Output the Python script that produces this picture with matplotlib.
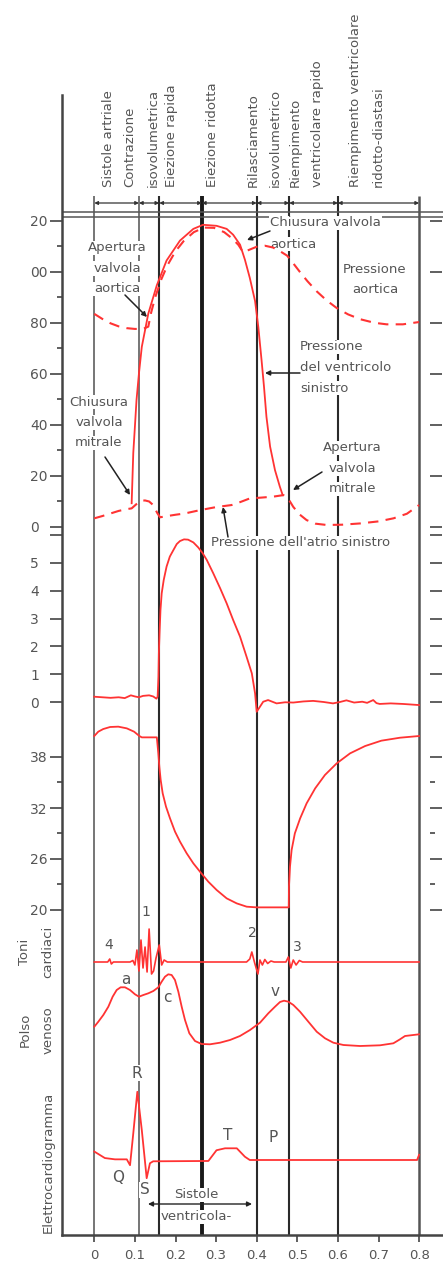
import matplotlib.pyplot as plt

W, H = 443, 1266
plt.rcParams['font.family'] = ['DejaVu Sans']

RED = '#ff3333'
GREY = '#555555'

# phase boundaries (s) and labels
phase_times = [0, 0.11, 0.16, 0.265, 0.40, 0.48, 0.60, 0.80]
phase_labels = [(108, 'Sistole artriale'), (130, 'Contrazione'), (153, 'isovolumetrica'),
                (172, 'Eiezione rapida'), (213, 'Eiezione ridotta'), (253, 'Rilasciamento'),
                (275, 'isovolumetrico'), (295, 'Riempimento'), (317, 'ventricolare rapido'),
                (355, 'Riempimento ventricolare'), (378, 'ridotto-diastasi')]
xticks = [0, 0.1, 0.2, 0.3, 0.4, 0.5, 0.6, 0.7, 0.8]
xticklabels = ['0', '0.1', '0.2', '0.3', '0.4', '0.5', '0.6', '0.7', '0.8']

# pressione ventricolo sinistro (mmHg)
lv_t = [0.092, 0.096, 0.100, 0.104, 0.110, 0.117, 0.125, 0.133, 0.154, 0.178, 0.211, 0.244,
        0.268, 0.301, 0.326, 0.342, 0.359, 0.371, 0.383, 0.396, 0.404, 0.412, 0.418, 0.424,
        0.433, 0.445, 0.457, 0.464]
lv_p = [9.3, 29, 39.3, 49.8, 60.2, 70.6, 77.1, 83.6, 94.7, 104.4, 112.2, 116.8,
        118.4, 118.0, 116.8, 114.5, 110.6, 104.7, 97.6, 88.5, 78.3, 65.3, 54.9, 43.2,
        31.5, 22.3, 15.8, 12.5]
# pressione aortica
ao_t = [0, 0.02, 0.04, 0.06, 0.08, 0.10, 0.12, 0.133, 0.14, 0.15, 0.165, 0.18, 0.20, 0.22,
        0.245, 0.27, 0.295, 0.32, 0.34, 0.355, 0.363, 0.37, 0.38, 0.40, 0.42, 0.44, 0.46,
        0.475, 0.49, 0.507, 0.525, 0.548, 0.572, 0.597, 0.625, 0.655, 0.69, 0.72, 0.76, 0.80]
ao_p = [83.5, 81.5, 79.8, 78.6, 77.9, 77.6, 77.6, 78.5, 84, 90, 97, 102.5, 108, 112,
        115.5, 117.3, 117.2, 115.5, 113, 110.5, 108.5, 107.5, 108.5, 109.8, 110.2, 109.5, 107.8,
        106.3, 103.3, 99.8, 96.3, 92.3, 88.8, 85.8, 83.3, 81.4, 80.0, 79.4, 79.4, 80.3]
# pressione atrio sinistro
la_t = [0, 0.02, 0.04, 0.06, 0.08, 0.092, 0.104, 0.115, 0.125, 0.135, 0.145, 0.155, 0.162,
        0.18, 0.2, 0.223, 0.26, 0.3, 0.338, 0.36, 0.383, 0.41, 0.441, 0.466, 0.48, 0.49,
        0.505, 0.523, 0.545, 0.572, 0.61, 0.655, 0.70, 0.737, 0.77, 0.80]
la_p = [3.4, 4.3, 5.3, 6.3, 7.0, 7.3, 9.0, 10.3, 10.4, 10.0, 8.6, 5.5, 3.8,
        4.3, 4.8, 5.3, 6.6, 7.8, 8.6, 9.8, 11.2, 11.5, 11.9, 12.5, 10.5, 7.9,
        5.0, 2.7, 1.3, 0.8, 0.9, 1.4, 2.2, 3.4, 5.2, 8.6]

# flusso aortico
flow_t = [0, 0.02, 0.04, 0.06, 0.075, 0.09, 0.10, 0.11, 0.12, 0.135, 0.145, 0.153, 0.156,
          0.158, 0.159, 0.161, 0.163, 0.166, 0.171, 0.178, 0.186, 0.195, 0.203, 0.211, 0.221,
          0.231, 0.244, 0.256, 0.267, 0.277, 0.293, 0.31, 0.326, 0.342, 0.359, 0.375, 0.388,
          0.396, 0.40, 0.408, 0.416, 0.428, 0.449, 0.47, 0.49, 0.515, 0.539, 0.565, 0.588,
          0.605, 0.621, 0.64, 0.66, 0.672, 0.687, 0.695, 0.703, 0.73, 0.76, 0.80]
flow_v = [0.19, 0.17, 0.15, 0.17, 0.14, 0.24, 0.2, 0.17, 0.22, 0.24, 0.2, 0.12, 0.19,
          0.91, 1.75, 2.59, 3.31, 3.91, 4.39, 4.87, 5.23, 5.47, 5.68, 5.79, 5.85,
          5.84, 5.74, 5.56, 5.35, 5.11, 4.63, 4.09, 3.55, 2.95, 2.35, 1.63, 1.03,
          0.31, -0.35, -0.17, 0.01, 0.07, -0.05, -0.01, -0.02, 0.02, 0.04, 0.0, -0.05,
          0.0, 0.06, -0.02, 0.01, -0.03, 0.07, -0.04, -0.07, -0.05, -0.07, -0.11]

# volume ventricolare
vol_t = [0, 0.0098, 0.022, 0.039, 0.059, 0.08, 0.098, 0.111, 0.117, 0.154, 0.1577, 0.1602,
         0.1635, 0.1684, 0.1766, 0.1865, 0.1988, 0.2111, 0.2275, 0.2439, 0.2603, 0.2808,
         0.3014, 0.326, 0.3507, 0.3753, 0.40, 0.479, 0.4795, 0.482, 0.486, 0.494, 0.507,
         0.523, 0.544, 0.568, 0.597, 0.63, 0.667, 0.707, 0.753, 0.80]
vol_v = [40.47, 40.98, 41.29, 41.53, 41.57, 41.37, 40.98, 40.47, 40.31, 40.31, 38.43, 36.86,
         35.29, 33.73, 32.16, 30.78, 29.22, 28.04, 26.67, 25.49, 24.51, 23.33,
         22.35, 21.37, 20.78, 20.39, 20.31, 20.31, 22.75, 25.1, 27.06, 29.02, 30.78,
         32.55, 34.31, 35.88, 37.25, 38.43, 39.29, 39.92, 40.27, 40.47]

# toni cardiaci
snd_t = [0, 0.033, 0.038, 0.042, 0.047, 0.088, 0.095, 0.100, 0.105, 0.110, 0.115, 0.120,
         0.125, 0.130, 0.135, 0.141, 0.146, 0.152, 0.160, 0.166, 0.172, 0.18, 0.375, 0.383,
         0.388, 0.395, 0.403, 0.408, 0.414, 0.42, 0.427, 0.435, 0.443, 0.472, 0.478, 0.484,
         0.49, 0.497, 0.505, 0.513, 0.80]
snd_v = [0, 0, 0.3, -0.2, 0, 0, 0.15, -0.3, 1.2, -0.9, 2.2, -0.6,
         1.5, -1.0, 3.3, -1.2, -0.9, 0.4, 1.7, -0.3, 0.2, 0, 0, 0.3,
         1.0, -0.1, -1.2, 0.2, -0.3, 0.25, -0.15, 0.1, 0, 0, 0.5, -0.6,
         0.2, -0.3, 0.15, 0, 0]

# polso venoso
ven_t = [0, 0.0099, 0.0222, 0.0346, 0.0452, 0.0551, 0.0649, 0.0756, 0.0879, 0.1002, 0.1101,
         0.1208, 0.1331, 0.1454, 0.1577, 0.1659, 0.1741, 0.1823, 0.1905, 0.1987, 0.207,
         0.2152, 0.2234, 0.2341, 0.248, 0.2644, 0.2849, 0.3096, 0.3342, 0.3588, 0.3835,
         0.4081, 0.4286, 0.4451, 0.4574, 0.4673, 0.478, 0.4903, 0.5067, 0.5272, 0.5478,
         0.5683, 0.5888, 0.6135, 0.6545, 0.7038, 0.7366, 0.753, 0.7653, 0.80]
ven_v = [1.83, 2.33, 3.0, 3.83, 4.83, 5.5, 5.77, 5.77, 5.5, 5.07, 4.83,
         5.0, 5.17, 5.4, 5.77, 6.33, 6.83, 7.07, 7.0, 6.5, 5.33,
         3.83, 2.5, 1.17, 0.4, 0.1, 0.07, 0.23, 0.5, 0.9, 1.5,
         2.23, 3.17, 3.83, 4.3, 4.43, 4.33, 4.0, 3.33, 2.33, 1.33,
         0.67, 0.23, 0.0, -0.1, -0.03, 0.17, 0.57, 0.9, 1.07]

# elettrocardiogramma (mV)
ecg_t = [0, 0.026, 0.051, 0.08, 0.088, 0.096, 0.106, 0.117, 0.129, 0.137, 0.145, 0.281,
         0.301, 0.322, 0.351, 0.371, 0.383, 0.47, 0.795, 0.80]
ecg_v = [0.13, 0.03, 0.01, 0.01, -0.08, 0.41, 1.05, 0.46, -0.28, -0.05, -0.02, -0.015,
         0.15, 0.18, 0.18, 0.05, 0.0, 0.0, 0.0, 0.08]

X0, PPS = 94.3, 406.0          # pixel of t=0, pixels per second
T0, T1 = (62 - X0) / PPS, (443 - X0) / PPS

fig = plt.figure(figsize=(W / 100, H / 100), dpi=100)

ax = fig.add_axes([62 / W, 1 - 1235 / H, 381 / W, 1140 / H])
ax.set_xlim(T0, T1)
ax.set_ylim(1235, 95)
ax.patch.set_visible(False)
for s in ['top', 'right']:
    ax.spines[s].set_visible(False)
for s in ['left', 'bottom']:
    ax.spines[s].set_color('#444444')
    ax.spines[s].set_linewidth(1.8)
ax.set_yticks([])
ax.set_xticks(xticks)
ax.set_xticklabels(xticklabels)
ax.tick_params(axis='x', length=5, width=1.2, color='#444444', labelsize=9.5,
               labelcolor=GREY, pad=5)

line_col = ['#6a6a6a', '#6a6a6a', '#2a2a2a', '#1a1a1a', '#2a2a2a', '#2a2a2a', '#2a2a2a', '#555555']
line_w = [1.3, 1.3, 1.5, 2.8, 1.5, 1.5, 1.5, 1.8]
for t, c, w in zip(phase_times, line_col, line_w):
    ax.vlines(t, 196, 1235, colors=c, lw=w, zorder=1)
ax.hlines([212, 216.5], T0, T1, colors='#555555', lw=1.1, zorder=1)
for a, b in zip(phase_times[:-1], phase_times[1:]):
    ax.annotate('', xy=(a, 203), xytext=(b, 203),
                arrowprops=dict(arrowstyle='<|-|>', color='#333333', lw=0.9,
                                mutation_scale=5, shrinkA=0, shrinkB=0))


def fx(x, y):
    return x / W, 1 - y / H


def note(x, y, lines, ha='center', dy=20.5, size=9.5, box=True, rot=0, color=GREY):
    for i, s in enumerate(lines):
        ax.text(*fx(x + (i * dy if rot else 0), y + (0 if rot else i * dy)), s,
                transform=fig.transFigure, ha=ha, va='center', fontsize=size,
                color=color, rotation=rot, zorder=4,
                bbox=dict(fc='white', ec='none', pad=0.6) if box else None)


def arrow(x0, y0, x1, y1):
    ax.annotate('', xy=fx(x1, y1), xycoords='figure fraction', xytext=fx(x0, y0),
                textcoords='figure fraction', zorder=5,
                arrowprops=dict(arrowstyle='-|>', color='#222222', lw=1.1,
                                mutation_scale=7, shrinkA=0, shrinkB=0))


for x, s in phase_labels:
    ax.text(*fx(x, 187), s, transform=fig.transFigure, rotation=90, ha='center',
            va='bottom', fontsize=9.5, color=GREY)

note(270, 223, ['Chiusura valvola', 'aortica'], ha='left', dy=21)
arrow(270, 231, 247, 240)
note(117, 248, ['Apertura', 'valvola', 'aortica'])
arrow(125, 295, 147, 317)
note(375, 269, ['Pressione', 'aortica'])
note(300, 347, ['Pressione', 'del ventricolo', 'sinistro'], ha='left')
arrow(300, 373, 265, 373)
note(99, 402, ['Chiusura', 'valvola', 'mitrale'])
arrow(105, 457, 130, 495)
note(352, 448, ['Apertura', 'valvola', 'mitrale'])
arrow(322, 472, 293, 490)
note(301, 543, ["Pressione dell'atrio sinistro"])
arrow(228, 537, 223, 507)

note(109, 945, ['4'], box=False, size=10)
note(146, 912, ['1'], box=False, size=10)
note(252, 933, ['2'], box=False, size=10)
note(297, 947, ['3'], box=False, size=10)
note(126, 980, ['a'], box=False, size=11)
note(167, 998, ['c'], box=False, size=11)
note(275, 992, ['v'], box=False, size=11)
note(137, 1073, ['R'], size=11)
note(118, 1177, ['Q'], box=False, size=11)
note(145, 1190, ['S'], size=11)
note(228, 1135, ['T'], box=False, size=11)
note(273, 1137, ['P'], box=False, size=11)
note(196, 1195, ['Sistole', 'ventricola-'], dy=22)
ax.annotate('', xy=fx(148, 1204), xycoords='figure fraction', xytext=fx(252, 1204),
            textcoords='figure fraction', zorder=5,
            arrowprops=dict(arrowstyle='<|-|>', color='#222222', lw=1.0,
                            mutation_scale=7, shrinkA=0, shrinkB=0))

note(25, 952, ['Toni', 'cardiaci'], rot=90, dy=23, box=False)
note(25, 1030, ['Polso', 'venoso'], rot=90, dy=23, box=False)
note(48, 1162, ['Elettrocardiogramma'], rot=90, box=False)


def panel(top, bot, ref_val, ref_px, ppu):
    a = fig.add_axes([62 / W, 1 - bot / H, 381 / W, (bot - top) / H])
    a.set_xlim(T0, T1)
    a.set_ylim(ref_val - (bot - ref_px) / ppu, ref_val + (ref_px - top) / ppu)
    a.patch.set_visible(False)
    for s in a.spines.values():
        s.set_visible(False)
    a.spines['right'].set_position(('axes', (430 - 62) / 381))
    a.set_xticks([])
    a.set_yticks([])
    return a


def yticks(a, major, labels, minor=(), right_minor=True):
    a.set_yticks(major)
    a.set_yticklabels(labels)
    a.set_yticks(list(minor), minor=True)
    a.tick_params(axis='y', which='major', length=8.6, width=1.2, color='#444444',
                  left=True, right=True, labelsize=10, labelcolor=GREY, pad=14.4)
    a.tick_params(axis='y', which='minor', length=3.6, width=1.2, color='#444444',
                  left=True, right=right_minor)
    for lab in a.get_yticklabels():
        lab.set_ha('left')


pa = panel(214, 548, 0, 527, (527 - 220.7) / 120)
yticks(pa, [0, 20, 40, 60, 80, 100, 120], ['0', '20', '40', '60', '80', '00', '20'],
       minor=[10, 30, 50, 70, 90, 110], right_minor=False)
pa.plot(ao_t, ao_p, color=RED, lw=1.5, ls=(0, (5, 3.5)), clip_on=False)
pa.plot(la_t, la_p, color=RED, lw=1.5, ls=(0, (5, 3.5)), clip_on=False)
pa.plot(lv_t, lv_p, color=RED, lw=1.3, clip_on=False)

pf = panel(530, 720, 0, 702, 27.8)
yticks(pf, [0, 1, 2, 3, 4, 5, 6], ['0', '1', '2', '3', '4', '5', ''])
pf.plot(flow_t, flow_v, color=RED, lw=1.3, clip_on=False)

pv = panel(720, 915, 20, 910, 8.5)
yticks(pv, [20, 26, 32, 38], ['20', '26', '32', '38'], minor=[23, 29, 35])
pv.plot(vol_t, vol_v, color=RED, lw=1.3, clip_on=False)

ps = panel(915, 990, 0, 962, 10)
ps.plot(snd_t, snd_v, color=RED, lw=1.2, clip_on=False)

pj = panel(965, 1060, 0, 1045, 10)
pj.plot(ven_t, ven_v, color=RED, lw=1.3, clip_on=False)

pe = panel(1060, 1235, 0, 1160, 65)
pe.plot(ecg_t, ecg_v, color=RED, lw=1.3, clip_on=False)

fig.savefig('out.png', dpi=100)
